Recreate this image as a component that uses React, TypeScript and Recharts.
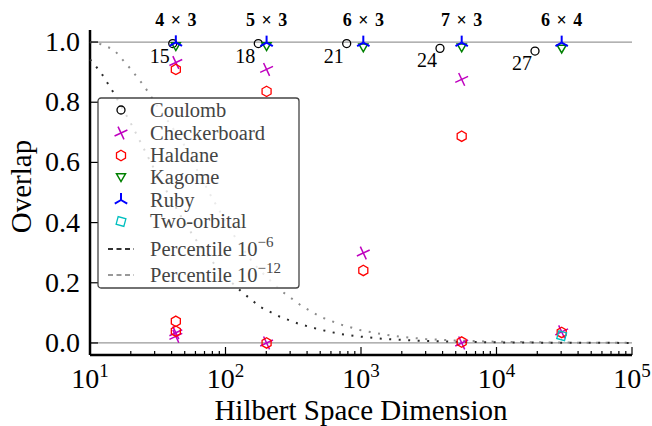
import React from 'react';
import { ScatterChart, Scatter, XAxis, YAxis, ReferenceLine } from 'recharts';

const FONT = "'Liberation Serif', 'DejaVu Serif', serif";

// lattice sizes and their Hilbert space dimension
const latticeNames = ['4 × 3', '5 × 3', '6 × 3', '7 × 3', '6 × 4'];
const latticeDims = [43, 201, 1040, 5535, 30270];

// Coulomb reference (number of flux quanta shown next to each point)
const coulombDims = [40.8, 174.6, 784, 3828, 19240];
const coulombN = [15, 18, 21, 24, 27];
const coulombOverlap = [0.995, 0.995, 0.995, 0.979, 0.97];

const checkerboardDims = [43, 43, 43, 201, 201, 1040, 5535, 5535, 30270];
const checkerboardOverlap = [0.932, 0.034, 0.022, 0.909, 0.0, 0.299, 0.876, 0.0, 0.037];

const haldaneDims = [43, 43, 43, 201, 201, 1040, 5535, 5535, 30270];
const haldaneOverlap = [0.909, 0.072, 0.039, 0.836, 0.0, 0.241, 0.687, 0.003, 0.035];

const kagomeDims = [43, 201, 1040, 5535, 30270];
const kagomeOverlap = [0.987, 0.987, 0.983, 0.983, 0.979];

const rubyDims = [43, 201, 1040, 5535, 30270];
const rubyOverlap = [0.999, 0.998, 0.998, 0.998, 0.998];

const twoOrbitalDims = [30270];
const twoOrbitalOverlap = [0.024];

// percentile curves
const pct6Dims = [10, 12, 15, 20, 25, 30, 40, 50, 60, 80, 100, 130, 180, 250, 350, 500, 700, 1000, 1500, 2500, 5000, 10000, 30000, 100000];
const pct6Overlap = [0.942, 0.9, 0.83, 0.73, 0.645, 0.575, 0.475, 0.4, 0.345, 0.27, 0.22, 0.172, 0.12, 0.088, 0.063, 0.044, 0.03, 0.021, 0.013, 0.008, 0.004, 0.002, 0.0007, 0.0002];

const pct12Dims = [10, 12, 15, 17.5, 20, 25, 30, 40, 50, 60, 80, 100, 120, 160, 200, 260, 360, 500, 700, 1000, 1400, 2000, 3000, 5000, 10000, 30000, 100000];
const pct12Overlap = [1.0, 0.993, 0.975, 0.94, 0.91, 0.855, 0.8, 0.72, 0.655, 0.585, 0.48, 0.405, 0.345, 0.265, 0.22, 0.172, 0.125, 0.087, 0.062, 0.042, 0.03, 0.02, 0.013, 0.008, 0.004, 0.0013, 0.0004];

const xMajorTicks = [10, 100, 1000, 10000, 100000];
const xMinorTicks = xMajorTicks.slice(0, -1).flatMap((m) => [2, 3, 4, 5, 6, 7, 8, 9].map((k) => k * m));
const xTicks = [...xMajorTicks, ...xMinorTicks].sort((a, b) => a - b);
const yTicks = [0, 0.2, 0.4, 0.6, 0.8, 1.0];

const pts = (xs: number[], ys: number[]) => xs.map((d, i) => ({ d, y: ys[i] }));

const coulombData = coulombDims.map((d, i) => ({ d, y: coulombOverlap[i], n: coulombN[i] }));
const labelData = latticeDims.map((d, i) => ({ d, y: 1.04, name: latticeNames[i] }));

const serif = (size: number, extra: React.CSSProperties = {}): React.CSSProperties => ({
  fontFamily: FONT,
  fontSize: size,
  ...extra,
});

type MP = { cx?: number; cy?: number; payload?: any };

const CoulombMarker = ({ cx = 0, cy = 0, payload }: MP) => (
  <g>
    <circle cx={cx} cy={cy} r={4} fill="none" stroke="#000" strokeWidth={1.3} />
    {payload && payload.n != null && (
      <text x={cx - 13} y={cy + 19} textAnchor="middle" style={serif(20)} fill="#000">
        {payload.n}
      </text>
    )}
  </g>
);

const CrossMarker = ({ cx = 0, cy = 0 }: MP) => (
  <g transform={`rotate(20 ${cx} ${cy})`} stroke="#bf00bf" strokeWidth={1.5}>
    <line x1={cx - 5} y1={cy - 5} x2={cx + 5} y2={cy + 5} />
    <line x1={cx - 5} y1={cy + 5} x2={cx + 5} y2={cy - 5} />
  </g>
);

const HexMarker = ({ cx = 0, cy = 0 }: MP) => {
  const r = 5.2;
  const p = [-90, -30, 30, 90, 150, 210]
    .map((a) => `${cx + r * Math.cos((a * Math.PI) / 180)},${cy + r * Math.sin((a * Math.PI) / 180)}`)
    .join(' ');
  return <polygon points={p} fill="none" stroke="#ff0000" strokeWidth={1.3} />;
};

const TriDownMarker = ({ cx = 0, cy = 0 }: MP) => (
  <polygon
    points={`${cx - 4.5},${cy - 3.2} ${cx + 4.5},${cy - 3.2} ${cx},${cy + 4.6}`}
    fill="none"
    stroke="#008000"
    strokeWidth={1.5}
  />
);

const TriUpMarker = ({ cx = 0, cy = 0 }: MP) => (
  <g stroke="#0000ff" strokeWidth={2}>
    <line x1={cx} y1={cy} x2={cx} y2={cy - 7} />
    <line x1={cx} y1={cy} x2={cx - 6.2} y2={cy + 3.6} />
    <line x1={cx} y1={cy} x2={cx + 6.2} y2={cy + 3.6} />
  </g>
);

const SquareMarker = ({ cx = 0, cy = 0 }: MP) => (
  <rect
    x={cx - 4}
    y={cy - 4}
    width={8}
    height={8}
    transform={`rotate(15 ${cx} ${cy})`}
    fill="none"
    stroke="#00bfbf"
    strokeWidth={1.3}
  />
);

const LatticeLabel = ({ cx = 0, cy = 0, payload }: MP) => (
  <text x={cx} y={cy - 4} textAnchor="middle" style={serif(18, { fontWeight: 'bold', wordSpacing: 2 })} fill="#000">
    {payload?.name}
  </text>
);

const Nothing = () => <g />;

const BottomTick = (props: any) => {
  const { x, y, payload } = props;
  const major = xMajorTicks.includes(payload.value);
  const exp = Math.round(Math.log10(payload.value));
  return (
    <g>
      <line x1={x} x2={x} y1={y} y2={y - (major ? 8 : 4)} stroke="#000" strokeWidth={1.2} />
      {major && (
        <text x={x} y={y + 33} textAnchor="middle" style={serif(28)} fill="#000">
          10
          <tspan dy={-11} style={serif(19)}>
            {exp}
          </tspan>
        </text>
      )}
    </g>
  );
};

const TopTick = (props: any) => {
  const { x, y, payload } = props;
  const major = xMajorTicks.includes(payload.value);
  return <line x1={x} x2={x} y1={y} y2={y + (major ? 8 : 4)} stroke="#000" strokeWidth={1.2} />;
};

const LeftTick = (props: any) => {
  const { x, y, payload } = props;
  return (
    <g>
      <line x1={x} x2={x + 8} y1={y} y2={y} stroke="#000" strokeWidth={1.2} />
      <text x={x - 10} y={y + 9} textAnchor="end" style={serif(28)} fill="#000">
        {Number(payload.value).toFixed(1)}
      </text>
    </g>
  );
};

const RightTick = (props: any) => {
  const { x, y } = props;
  return <line x1={x} x2={x - 8} y1={y} y2={y} stroke="#000" strokeWidth={1.2} />;
};

const legendRows = [
  { label: 'Coulomb', Marker: CoulombMarker },
  { label: 'Checkerboard', Marker: CrossMarker },
  { label: 'Haldane', Marker: HexMarker },
  { label: 'Kagome', Marker: TriDownMarker },
  { label: 'Ruby', Marker: TriUpMarker },
  { label: 'Two-orbital', Marker: SquareMarker },
];

function LegendBox() {
  const rowY = [13, 36, 58.5, 80, 103, 124.5];
  return (
    <svg width={203} height={192} style={{ position: 'absolute', left: 97, top: 97, overflow: 'visible' }}>
      <rect x={1} y={1} width={201} height={190} rx={3} fill="rgba(255,255,255,0.82)" stroke="#444" strokeWidth={1.3} />
      {legendRows.map(({ label, Marker }, i) => (
        <g key={label}>
          <Marker cx={24} cy={rowY[i]} />
          <text x={53} y={rowY[i] + 6.5} style={serif(20.5)} fill="#444">
            {label}
          </text>
        </g>
      ))}
      <line x1={11} x2={37} y1={152} y2={152} stroke="#333" strokeWidth={2} strokeDasharray="5 3.5" />
      <text x={53} y={158.5} style={serif(20.5)} fill="#444">
        Percentile 10
        <tspan dy={-9} style={serif(15)}>
          −6
        </tspan>
      </text>
      <line x1={11} x2={37} y1={178} y2={178} stroke="#999" strokeWidth={2} strokeDasharray="5 3.5" />
      <text x={53} y={184.5} style={serif(20.5)} fill="#444">
        Percentile 10
        <tspan dy={-9} style={serif(15)}>
          −12
        </tspan>
      </text>
    </svg>
  );
}

export default function App() {
  return (
    <div style={{ position: 'absolute', left: 0, top: 0, width: 652, height: 426, background: '#fff' }}>
      <ScatterChart width={652} height={426} margin={{ top: 30, right: 20, left: 30, bottom: 0 }}>
        <XAxis
          dataKey="d"
          type="number"
          scale="log"
          domain={[10, 100000]}
          ticks={xTicks}
          interval={0}
          tickSize={0}
          tickMargin={0}
          tickLine={false}
          tick={BottomTick}
          height={71}
          axisLine={{ stroke: '#000', strokeWidth: 2.5 }}
          label={{
            content: (p: any) => (
              <text
                x={p.viewBox.x + p.viewBox.width / 2}
                y={p.viewBox.y + 65}
                textAnchor="middle"
                style={serif(29)}
                fill="#000"
              >
                Hilbert Space Dimension
              </text>
            ),
          }}
        />
        <XAxis
          xAxisId="top"
          orientation="top"
          dataKey="d"
          type="number"
          scale="log"
          domain={[10, 100000]}
          ticks={xTicks}
          interval={0}
          tickSize={0}
          tickMargin={0}
          tickLine={false}
          tick={TopTick}
          height={0}
          axisLine={{ stroke: '#000', strokeWidth: 2.5 }}
        />
        <YAxis
          dataKey="y"
          type="number"
          domain={[-0.04, 1.04]}
          ticks={yTicks}
          interval={0}
          tickSize={0}
          tickMargin={0}
          tickLine={false}
          tick={LeftTick}
          width={60}
          axisLine={{ stroke: '#000', strokeWidth: 2.5 }}
          label={{
            content: (p: any) => {
              const cy = p.viewBox.y + p.viewBox.height / 2 - 6;
              return (
                <text
                  x={21}
                  y={cy}
                  transform={`rotate(-90 21 ${cy})`}
                  textAnchor="middle"
                  dominantBaseline="central"
                  style={serif(29)}
                  fill="#000"
                >
                  Overlap
                </text>
              );
            },
          }}
        />
        <YAxis
          yAxisId="right"
          orientation="right"
          dataKey="y"
          type="number"
          domain={[-0.04, 1.04]}
          ticks={yTicks}
          interval={0}
          tickSize={0}
          tickMargin={0}
          tickLine={false}
          tick={RightTick}
          width={0}
          axisLine={{ stroke: '#000', strokeWidth: 2.5 }}
        />
        <ReferenceLine y={1} stroke="#999" strokeWidth={1.3} />
        <ReferenceLine y={0} stroke="#999" strokeWidth={1.3} />

        <Scatter
          xAxisId="top"
          yAxisId="right"
          data={pts(pct12Dims, pct12Overlap)}
          line={{ stroke: '#8c8c8c', strokeWidth: 2, strokeDasharray: '2 7.5' }}
          lineType="joint"
          shape={Nothing}
          isAnimationActive={false}
        />
        <Scatter
          xAxisId="top"
          yAxisId="right"
          data={pts(pct6Dims, pct6Overlap)}
          line={{ stroke: '#2a2a2a', strokeWidth: 2, strokeDasharray: '2 7.5' }}
          lineType="joint"
          shape={Nothing}
          isAnimationActive={false}
        />

        <Scatter data={coulombData} shape={CoulombMarker} isAnimationActive={false} />
        <Scatter data={pts(checkerboardDims, checkerboardOverlap)} shape={CrossMarker} isAnimationActive={false} />
        <Scatter data={pts(haldaneDims, haldaneOverlap)} shape={HexMarker} isAnimationActive={false} />
        <Scatter data={pts(kagomeDims, kagomeOverlap)} shape={TriDownMarker} isAnimationActive={false} />
        <Scatter data={pts(rubyDims, rubyOverlap)} shape={TriUpMarker} isAnimationActive={false} />
        <Scatter data={pts(twoOrbitalDims, twoOrbitalOverlap)} shape={SquareMarker} isAnimationActive={false} />

        <Scatter xAxisId="top" yAxisId="right" data={labelData} shape={LatticeLabel} isAnimationActive={false} />
      </ScatterChart>
      <LegendBox />
    </div>
  );
}
